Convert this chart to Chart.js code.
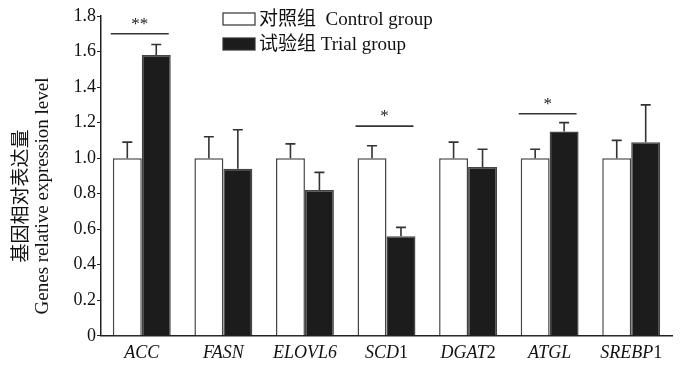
<!DOCTYPE html>
<html>
<head>
<meta charset="utf-8">
<script src="https://cdn.jsdelivr.net/npm/chart.js@4"></script>
<style>
  html, body { margin: 0; padding: 0; background: #fff; }
  #wrap { width: 700px; height: 369px; position: relative; }
</style>
</head>
<body>
<div id="wrap"><canvas id="chart"></canvas></div>
<script>
// DATA
const genes = ['ACC', 'FASN', 'ELOVL6', 'SCD1', 'DGAT2', 'ATGL', 'SREBP1'];
const geneItalic = ['ACC', 'FASN', 'ELOVL6', 'SCD', 'DGAT', 'ATGL', 'SREBP'];
const geneSuffix = ['', '', '', '1', '2', '', '1'];
const controlValues = [1.0, 1.0, 1.0, 1.0, 1.0, 1.0, 1.0];
const controlErr = [0.09, 0.12, 0.08, 0.07, 0.09, 0.05, 0.10];
const trialValues = [1.58, 0.94, 0.82, 0.56, 0.95, 1.15, 1.09];
const trialErr = [0.06, 0.22, 0.10, 0.05, 0.10, 0.05, 0.21];
const sigMarks = ['**', '', '', '*', '', '*', ''];
const sigLevels = [1.70, null, null, 1.18, null, 1.25, null];
const yTicks = [0, 0.2, 0.4, 0.6, 0.8, 1.0, 1.2, 1.4, 1.6, 1.8];
const yTitle = ['基因相对表达量', 'Genes relative expression level'];

const SERIF = "'Liberation Serif', 'Times New Roman', 'Noto Sans CJK SC', serif";

// ERROR BARS + SIGNIFICANCE + LEGEND + LABELS
const extras = {
    id: 'extras',
    afterDatasetsDraw(chart) {
        const ctx = chart.ctx;
        const y = chart.scales.y;
        const errs = [controlErr, trialErr];
        ctx.save();
        ctx.strokeStyle = '#333';
        ctx.lineWidth = 1.6;
        [0, 1].forEach(di => {
            const meta = chart.getDatasetMeta(di);
            meta.data.forEach((bar, i) => {
                const v = chart.data.datasets[di].data[i];
                const top = y.getPixelForValue(v + errs[di][i]);
                ctx.beginPath();
                ctx.moveTo(bar.x, bar.y);
                ctx.lineTo(bar.x, top);
                ctx.moveTo(bar.x - 5, top);
                ctx.lineTo(bar.x + 5, top);
                ctx.stroke();
            });
        });

        // significance lines
        const m0 = chart.getDatasetMeta(0), m1 = chart.getDatasetMeta(1);
        ctx.fillStyle = '#222';
        ctx.font = "17px " + SERIF;
        ctx.textAlign = 'center';
        ctx.textBaseline = 'bottom';
        sigMarks.forEach((s, i) => {
            if (!s) return;
            const b0 = m0.data[i], b1 = m1.data[i];
            const x0 = b0.x - b0.width / 2 - 2, x1 = b1.x + b1.width / 2 - 2;
            const py = y.getPixelForValue(sigLevels[i]);
            ctx.beginPath();
            ctx.moveTo(x0, py);
            ctx.lineTo(x1, py);
            ctx.stroke();
            ctx.fillText(s, (x0 + x1) / 2, py - 1);
        });

        // legend
        ctx.font = "19px " + SERIF;
        ctx.textAlign = 'left';
        ctx.textBaseline = 'middle';
        chart.data.datasets.forEach((ds, i) => {
            const ly = 19 + i * 25;
            ctx.fillStyle = ds.backgroundColor;
            ctx.fillRect(223, ly - 6, 32, 12);
            ctx.strokeStyle = '#333';
            ctx.lineWidth = 1.2;
            ctx.strokeRect(223, ly - 6, 32, 12);
            ctx.fillStyle = '#111';
            ctx.fillText(ds.label, 259, ly + 1);
        });

        // x labels with italic gene names and upright digits
        const x = chart.scales.x;
        genes.forEach((g, i) => {
            const cx = x.getPixelForValue(i);
            ctx.font = "italic 18px " + SERIF;
            const w1 = ctx.measureText(geneItalic[i]).width;
            ctx.font = "18px " + SERIF;
            const w2 = ctx.measureText(geneSuffix[i]).width;
            const sx = cx - (w1 + w2) / 2;
            ctx.fillStyle = '#111';
            ctx.font = "italic 18px " + SERIF;
            ctx.fillText(geneItalic[i], sx, 353);
            ctx.font = "18px " + SERIF;
            ctx.fillText(geneSuffix[i], sx + w1, 353);
        });

        // y axis title
        ctx.save();
        ctx.translate(20, 196);
        ctx.rotate(-Math.PI / 2);
        ctx.textAlign = 'center';
        ctx.font = "19px 'Noto Sans CJK SC', serif";
        ctx.fillText(yTitle[0], 0, 0);
        ctx.font = "19px " + SERIF;
        ctx.fillText(yTitle[1], 0, 23);
        ctx.restore();
        ctx.restore();
    }
};

const chart = new Chart(document.getElementById('chart'), {
    type: 'bar',
    data: {
        labels: genes,
        datasets: [{
            label: '对照组  Control group',
            data: controlValues,
            backgroundColor: '#ffffff',
            borderColor: '#444',
            borderWidth: 1.5
        }, {
            label: '试验组 Trial group',
            data: trialValues,
            backgroundColor: '#1c1c1c',
            borderColor: '#444',
            borderWidth: 1.5
        }]
    },
    options: {
        responsive: true,
        maintainAspectRatio: false,
        animation: false,
        datasets: {
            bar: { categoryPercentage: 0.71, barPercentage: 1.0 }
        },
        layout: { padding: { top: 16, right: 28, bottom: 0, left: 0 } },
        plugins: {
            legend: { display: false },
            tooltip: { enabled: false }
        },
        scales: {
            x: {
                grid: { display: false },
                border: { color: '#222', width: 1.5 },
                ticks: { display: true, color: 'rgba(0,0,0,0)', font: { size: 16, family: SERIF } }
            },
            y: {
                min: 0,
                max: 1.8,
                afterBuildTicks(scale) {
                    scale.ticks = yTicks.map(v => ({ value: v }));
                },
                afterFit(scale) { scale.width = 101; },
                grid: { display: true, drawOnChartArea: false, tickLength: 4, color: '#222' },
                border: { color: '#222', width: 1.5 },
                ticks: {
                    color: '#111',
                    padding: 1,
                    font: { size: 18, family: SERIF },
                    callback: v => v === 0 ? '0' : v.toFixed(1)
                }
            }
        }
    },
    plugins: [extras]
});
</script>
</body>
</html>
